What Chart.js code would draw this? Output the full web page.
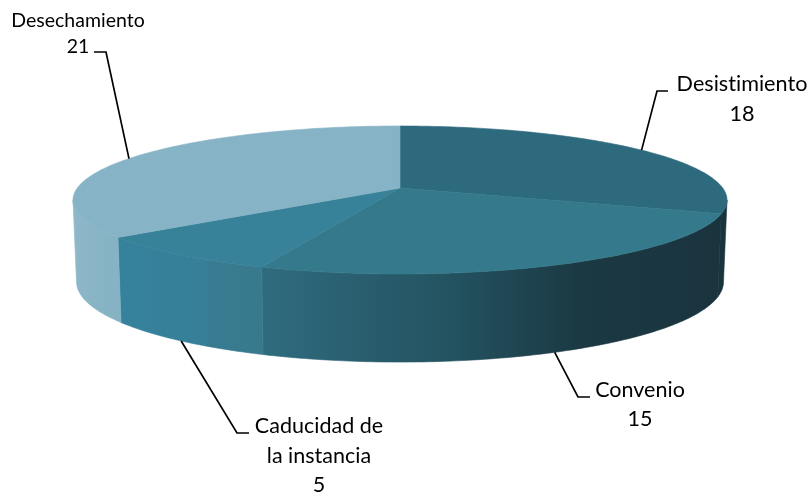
<!DOCTYPE html>
<html>
<head>
<meta charset="utf-8">
<style>
  html, body { margin: 0; padding: 0; background: #fff; }
  canvas { display: block; }
</style>
<script src="https://cdn.jsdelivr.net/npm/chart.js@4"></script>
</head>
<body>
<canvas id="pie" width="812" height="494"></canvas>
<script>
const categories = ["Desistimiento", "Convenio", "Caducidad de la instancia", "Desechamiento"];
const values = [18, 15, 5, 21];
const labelLines = [["Desistimiento"], ["Convenio"], ["Caducidad de", "la instancia"], ["Desechamiento"]];

const topColors = ["#2d6a7d", "#347a8c", "#388299", "#86b3c6"];
// wall shading runs left to right, [x, colour]
const wallStops = [
    [[700, "#1a343e"], [730, "#1a343e"]],
    [[265, "#2f6b7e"], [340, "#2a6172"], [440, "#245462"], [520, "#1f4551"], [580, "#1b3943"], [724, "#1a343e"]],
    [[120, "#35829c"], [205, "#377f98"], [210, "#387b90"], [265, "#38798d"]],
    [[73, "#8fb8c8"], [95, "#88b4c5"], [122, "#85b2c4"]],
];

// tilt of the disc
const tilt = 0.162;
const topRim = { sx: 322.7 / 188, sy: 72.05 / 188, dy: 0 };
const bottomRim = { sx: 319.2 / 188, sy: 78 / 188, dy: 81 };

// label placement: leader elbow, leader end, text centre, first baseline
const labelPlaces = [
    { elbow: [657, 91], end: [668, 91], x: 742, y: 91, size: 21.6, gap: 30 },
    { elbow: [578, 397], end: [590, 397], x: 640, y: 397, size: 21.5, gap: 29 },
    { elbow: [237, 433], end: [249, 433], x: 319, y: 433, size: 21.5, gap: 29.5 },
    { elbow: [106, 52], end: [94, 52], x: 78, y: 27, size: 19.5, gap: 26 },
];

function project(arc, angle, rim) {
    const u = Math.cos(angle), v = Math.sin(angle);
    const w = 1 - tilt * v;
    return {
        x: arc.x + rim.sx * arc.outerRadius * u / w,
        y: arc.y + rim.dy + rim.sy * arc.outerRadius * v / w,
    };
}

function rimPoints(arc, from, to, rim) {
    const steps = Math.max(2, Math.ceil(Math.abs(to - from) / 0.015));
    const pts = [];
    for (let i = 0; i <= steps; i++) {
        pts.push(project(arc, from + (to - from) * i / steps, rim));
    }
    return pts;
}

function tracePoints(ctx, pts) {
    ctx.beginPath();
    pts.forEach((p, i) => (i ? ctx.lineTo(p.x, p.y) : ctx.moveTo(p.x, p.y)));
    ctx.closePath();
}

const disc3d = {
    id: "disc3d",
    beforeDatasetsDraw(chart) {
        const ctx = chart.ctx;
        const arcs = chart.getDatasetMeta(0).data;

        // walls first, only between the two silhouette angles
        const edge = Math.asin(tilt);
        arcs.forEach((arc, i) => {
            const from = Math.max(arc.startAngle, edge);
            const to = Math.min(arc.endAngle, Math.PI - edge);
            if (to <= from) return;
            const grad = ctx.createLinearGradient(0, 0, chart.width, 0);
            wallStops[i].forEach((s) => grad.addColorStop(s[0] / chart.width, s[1]));
            tracePoints(ctx, rimPoints(arc, from, to, topRim).concat(rimPoints(arc, to, from, bottomRim)));
            ctx.fillStyle = grad;
            ctx.strokeStyle = grad;
            ctx.lineWidth = 0.6;
            ctx.fill();
            ctx.stroke();
        });

        arcs.forEach((arc, i) => {
            tracePoints(ctx, [{ x: arc.x, y: arc.y }].concat(rimPoints(arc, arc.startAngle, arc.endAngle, topRim)));
            ctx.fillStyle = topColors[i];
            ctx.strokeStyle = topColors[i];
            ctx.lineWidth = 0.6;
            ctx.fill();
            ctx.stroke();
        });
        return false;
    },
    afterDraw(chart) {
        const ctx = chart.ctx;
        const arcs = chart.getDatasetMeta(0).data;
        arcs.forEach((arc, i) => {
            const place = labelPlaces[i];
            const mid = (arc.startAngle + arc.endAngle) / 2;
            const start = project(arc, mid, Math.sin(mid) > 0 ? bottomRim : topRim);
            ctx.beginPath();
            ctx.moveTo(start.x, start.y);
            ctx.lineTo(place.elbow[0], place.elbow[1]);
            ctx.lineTo(place.end[0], place.end[1]);
            ctx.strokeStyle = "#000";
            ctx.lineWidth = 1.7;
            ctx.stroke();

            ctx.fillStyle = "#000";
            ctx.font = place.size + "px Lato";
            ctx.letterSpacing = "0.01px"; // stops the "ti" ligature
            ctx.textAlign = "center";
            ctx.textBaseline = "alphabetic";
            labelLines[i].concat(String(values[i])).forEach((line, n) => {
                ctx.fillText(line, place.x, place.y + n * place.gap);
            });
        });
    },
};

new Chart(document.getElementById("pie"), {
    type: "pie",
    data: {
        labels: categories,
        datasets: [{ data: values, backgroundColor: topColors, borderWidth: 0 }],
    },
    options: {
        responsive: false,
        animation: false,
        layout: { padding: { left: 0, right: 12, top: 0, bottom: 118 } },
        plugins: { legend: { display: false }, tooltip: { enabled: false } },
    },
    plugins: [disc3d],
});
</script>
</body>
</html>
